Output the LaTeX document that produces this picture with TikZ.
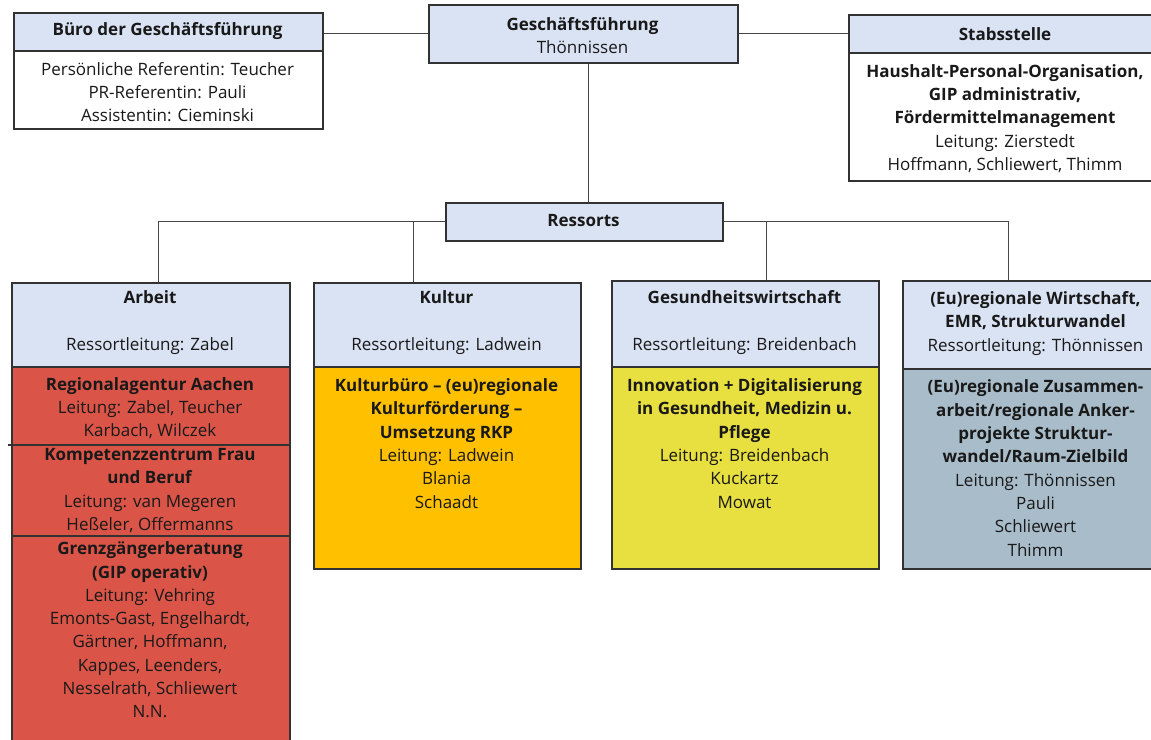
\documentclass[tikz,border=0pt]{standalone}
\usepackage{fontspec}
\setmainfont{Open Sans}
\usepackage{tikz}
\usetikzlibrary{positioning}
\definecolor{kopfblau}{RGB}{218,227,243}
\definecolor{rotbox}{RGB}{218,85,72}
\definecolor{goldbox}{RGB}{255,192,0}
\definecolor{gelbbox}{RGB}{232,223,64}
\definecolor{graublau}{RGB}{168,188,201}
\definecolor{rahmen}{RGB}{50,50,50}
\definecolor{linienfarbe}{RGB}{70,70,70}

\begin{document}
\begin{tikzpicture}[x=1pt,y=-1pt,
    kasten/.style={draw=rahmen, line width=1.5pt, anchor=north west, inner sep=0pt},
    txt/.style={align=center, inner sep=0pt, font=\fontsize{17}{23.3}\selectfont, text=black!90},
    linie/.style={draw=linienfarbe, line width=1.2pt}]
    \useasboundingbox (0,0) rectangle (1151,739);
    % Top row
    \node[kasten, fill=kopfblau, minimum width=309, minimum height=38] (buerokopf) at (13,12) {};
    \node[kasten, fill=white, minimum width=309, minimum height=78] (buerobody) at (13,50) {};
    \node[kasten, fill=kopfblau, minimum width=309, minimum height=58] (gf) at (428,4) {};
    \node[kasten, fill=kopfblau, minimum width=314, minimum height=38] (stabkopf) at (848,14) {};
    \node[kasten, fill=white, minimum width=314, minimum height=128] (stabbody) at (848,52) {};
    \node[kasten, fill=kopfblau, minimum width=277, minimum height=38] (ressorts) at (445,202) {};
    % Ressorts
    \node[kasten, fill=kopfblau, minimum width=278, minimum height=84] (arbeitkopf) at (11,282) {};
    \node[kasten, fill=rotbox, minimum width=278, minimum height=390] (arbeitbody) at (11,366) {};
    \node[kasten, fill=kopfblau, minimum width=267, minimum height=84] (kulturkopf) at (313,282) {};
    \node[kasten, fill=goldbox, minimum width=267, minimum height=202] (kulturbody) at (313,366) {};
    \node[kasten, fill=kopfblau, minimum width=267, minimum height=86] (gesundkopf) at (611,280) {};
    \node[kasten, fill=gelbbox, minimum width=267, minimum height=202] (gesundbody) at (611,366) {};
    \node[kasten, fill=kopfblau, minimum width=267, minimum height=88] (emrkopf) at (902,280) {};
    \node[kasten, fill=graublau, minimum width=267, minimum height=200] (emrbody) at (902,368) {};
    % Dividers in Arbeit
    \draw[draw=rahmen, line width=1.2pt] (8,445) -- (289,445);
    \draw[draw=rahmen, line width=1.2pt] (11,536) -- (289,536);
    % Connectors
    \draw[linie] (gf.west) -- (gf.west -| buerokopf.east);
    \draw[linie] (gf.east) -- (gf.east -| stabkopf.west);
    \draw[linie] ([xshift=5.5]gf.south) -- ([xshift=5.5]gf.south |- ressorts.north);
    \draw[linie] (ressorts.west) -| ([xshift=8]arbeitkopf.north);
    \draw[linie] ([xshift=-33.5]kulturkopf.north) |- (ressorts.west);
    \draw[linie] ([xshift=21.5]gesundkopf.north) |- (ressorts.east);
    \draw[linie] (ressorts.east) -| ([xshift=-27.5]emrkopf.north);
    % Texts top row
    \node[txt] (buerotitel) at (167.5,31) {\textbf{Büro der Geschäftsführung}};
    \node[txt] (buerotext) at (167.5,92) {Persönliche Referentin: Teucher\\PR-Referentin: Pauli\\Assistentin: Cieminski};
    \node[txt] (gftext) at (582.5,35.5) {\textbf{Geschäftsführung}\\Thönnissen};
    \node[txt] (stabtitel) at (1005,34) {\textbf{Stabsstelle}};
    \node[txt] (stabtext) at (1005,118.5) {\textbf{Haushalt-Personal-Organisation,}\\\textbf{GIP administrativ,}\\\textbf{Fördermittelmanagement}\\Leitung: Zierstedt\\Hoffmann, Schliewert, Thimm};
    \node[txt] (ressortstext) at (583.5,221) {\textbf{Ressorts}};
    % Texts Ressorts
    \node[txt] (arbeittitel) at (150,322.5) {\textbf{Arbeit}\\[23.3pt]Ressortleitung: Zabel};
    \node[txt] (regio) at (150,408) {\textbf{Regionalagentur Aachen}\\Leitung: Zabel, Teucher\\Karbach, Wilczek};
    \node[txt] (kompetenz) at (150,490.5) {\textbf{Kompetenzzentrum Frau}\\\textbf{und Beruf}\\Leitung: van Megeren\\Heßeler, Offermanns};
    \node[txt] (grenz) at (150,630) {\textbf{Grenzgängerberatung}\\\textbf{(GIP operativ)}\\Leitung: Vehring\\Emonts-Gast, Engelhardt,\\Gärtner, Hoffmann,\\Kappes, Leenders,\\Nesselrath, Schliewert\\N.N.};
    \node[txt] (kulturtitel) at (446.5,322.5) {\textbf{Kultur}\\[23.3pt]Ressortleitung: Ladwein};
    \node[txt] (kulturtext) at (446.5,443.5) {\textbf{Kulturbüro – (eu)regionale}\\\textbf{Kulturförderung –}\\\textbf{Umsetzung RKP}\\Leitung: Ladwein\\Blania\\Schaadt};
    \node[txt] (gesundtitel) at (744.5,322.5) {\textbf{Gesundheitswirtschaft}\\[23.3pt]Ressortleitung: Breidenbach};
    \node[txt] (gesundtext) at (744.5,443.5) {\textbf{Innovation + Digitalisierung}\\\textbf{in Gesundheit, Medizin u.}\\\textbf{Pflege}\\Leitung: Breidenbach\\Kuckartz\\Mowat};
    \node[txt] (emrtitel) at (1035.5,323.5) {\textbf{(Eu)regionale Wirtschaft,}\\\textbf{EMR, Strukturwandel}\\Ressortleitung: Thönnissen};
    \node[txt] (emrtext) at (1035.5,468) {\textbf{(Eu)regionale Zusammen-}\\\textbf{arbeit/regionale Anker-}\\\textbf{projekte Struktur-}\\\textbf{wandel/Raum-Zielbild}\\Leitung: Thönnissen\\Pauli\\Schliewert\\Thimm};
\end{tikzpicture}
\end{document}
